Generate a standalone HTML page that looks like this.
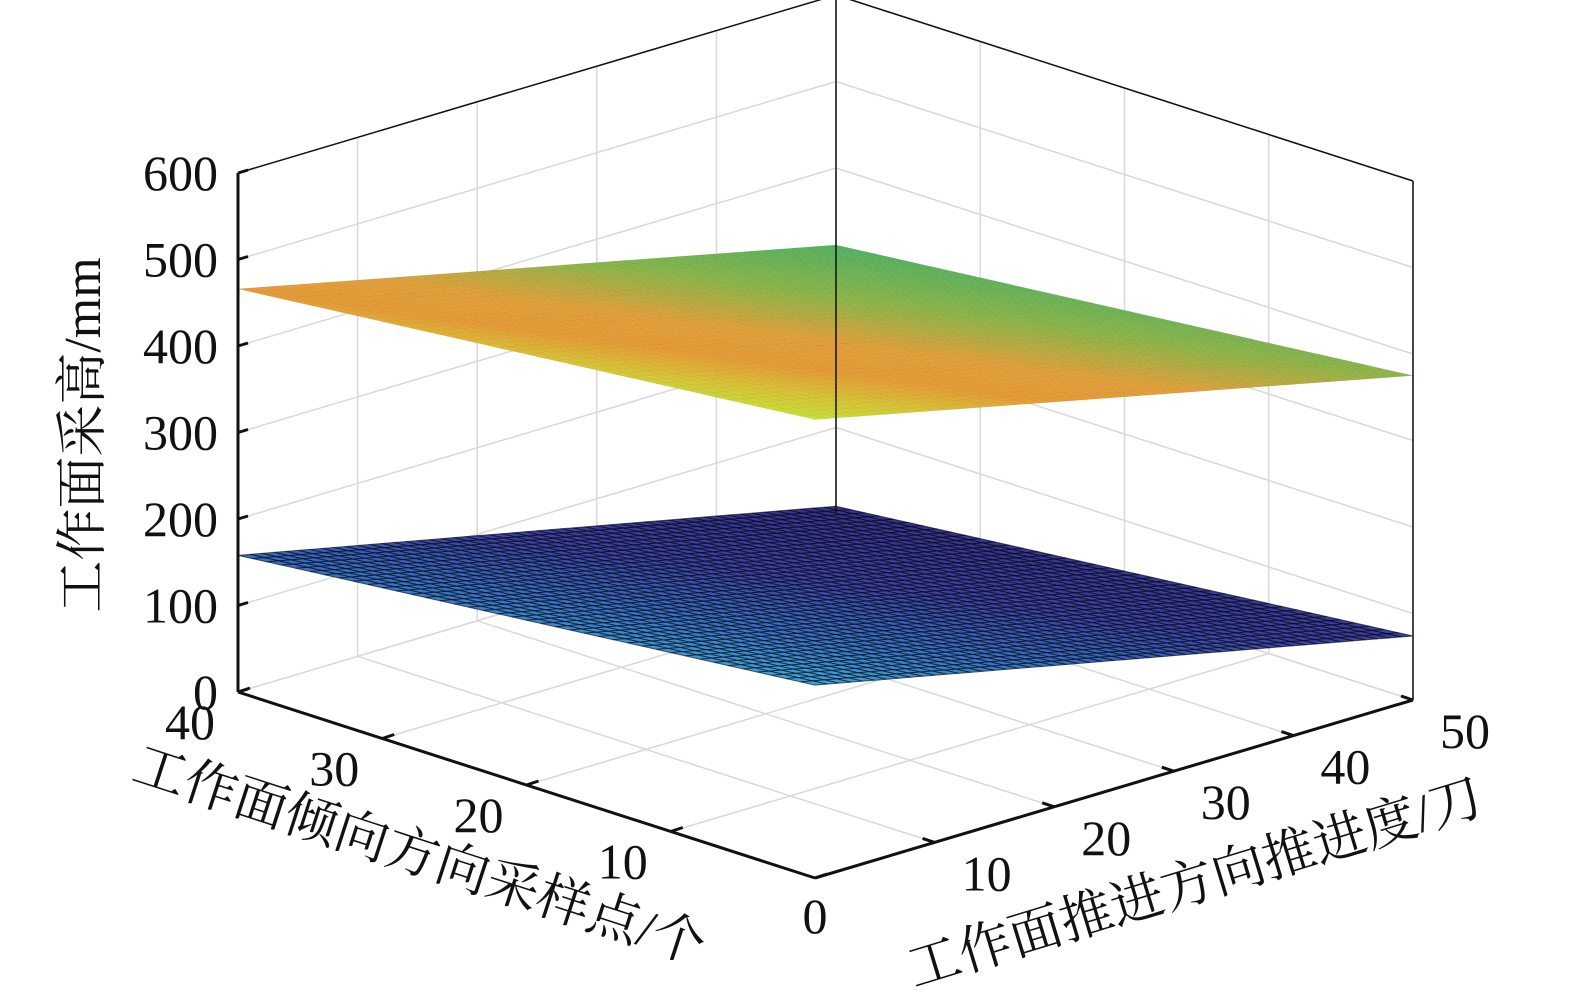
<!DOCTYPE html>
<html><head><meta charset="utf-8"><style>
html,body{margin:0;padding:0;background:#fff;}
svg{display:block;}
text{font-family:"Liberation Serif","Noto Serif CJK SC","Noto Sans CJK SC",serif;fill:#111;}
</style></head><body>
<svg id="chart" width="1575" height="1001" viewBox="0 0 1575 1001">
<g id="grid"></g>
<g id="surfaces"></g>
<g id="axes"></g>
<text x="100" y="435" font-size="52" text-anchor="middle" transform="rotate(-90 100 435)">工作面采高/mm</text>
<text x="414" y="872" font-size="53" text-anchor="middle" transform="rotate(18 414 872)">工作面倾向方向采样点/个</text>
<text x="1200" y="900" font-size="53" text-anchor="middle" transform="rotate(-17 1200 900)">工作面推进方向推进度/刀</text>
</svg>
<script>
// data
const zTicks=[0,100,200,300,400,500,600];
const xTicks=[10,20,30,40,50];
const yTicks=[0,10,20,30,40];
// surface corner heights: [x0y0, x50y0, x50y40, x0y40]
const upperCorners=[530,375,311,466];
const lowerCorners=[223,74,9,158];

const NS='http://www.w3.org/2000/svg';
function P(x,y,z){return [815+x*11.96-y*14.425, 878-x*3.56-y*4.65-z*0.865];}
function el(tag,attrs,parent){const e=document.createElementNS(NS,tag);for(const k in attrs)e.setAttribute(k,attrs[k]);parent.appendChild(e);return e;}
function line(a,b,st,w,parent){return el('line',{x1:a[0],y1:a[1],x2:b[0],y2:b[1],stroke:st,'stroke-width':w},parent);}
const grid=document.getElementById('grid'),axes=document.getElementById('axes'),surf=document.getElementById('surfaces');
const gc='#d9d9d9';
for(const z of zTicks){const l=line(P(0,40,z),P(50,40,z),gc,1.5,grid);
 const m=line(P(50,40,z),P(50,0,z),gc,1.5,grid);}
for(const x of [0,...xTicks]){const l=line(P(x,40,0),P(x,40,600),gc,1.5,grid);
 const f=line(P(x,0,0),P(x,40,0),gc,1.5,grid);}
for(const y of yTicks){const l=line(P(50,y,0),P(50,y,600),gc,1.5,grid);
 const f=line(P(0,y,0),P(50,y,0),gc,1.5,grid);}

function lerpC(stops,t){t=Math.max(0,Math.min(1,t));for(let i=1;i<stops.length;i++){if(t<=stops[i][0]){const a=stops[i-1],b=stops[i],u=(t-a[0])/(b[0]-a[0]);return 'rgb('+[0,1,2].map(k=>Math.round(a[1][k]+(b[1][k]-a[1][k])*u)).join(',')+')';}}return 'rgb('+stops[stops.length-1][1].join(',')+')';}
const upperMap=[[0,[80,178,95]],[0.3,[140,182,70]],[0.55,[228,160,55]],[0.72,[232,155,50]],[0.88,[215,200,50]],[1,[200,225,50]]];
const lowerMap=[[0,[52,48,138]],[0.45,[58,66,165]],[0.75,[55,115,200]],[1,[62,165,220]]];
function bil(c,x,y){const u=x/50,v=y/40;return c[0]*(1-u)*(1-v)+c[1]*u*(1-v)+c[2]*u*v+c[3]*(1-u)*v;}
function drawSurface(c,map,zmin,zmax,stroke,sop,sw,name){
 const g=el('g',{},surf);
 const n=1;
 for(let y=40;y>0;y-=n)for(let x=50;x>0;x-=n){
  const pts=[[x-n,y-n],[x,y-n],[x,y],[x-n,y]].map(p=>P(p[0],p[1],bil(c,p[0],p[1])));
  const zc=bil(c,x-n/2,y-n/2);
  el('polygon',{points:pts.map(p=>p.join(',')).join(' '),fill:lerpC(map,(zc-zmin)/(zmax-zmin)),stroke:stroke,'stroke-opacity':sop,'stroke-width':sw},g);
 }}
drawSurface(lowerCorners,lowerMap,0,223,'#000',0.6,1,'lower-surface');
drawSurface(upperCorners,upperMap,311,530,'#000',0.05,0.8,'upper-surface');

const k='#111';
[[P(0,40,0),P(0,40,600),3],[P(0,40,600),P(50,40,600),1.5],[P(50,40,600),P(50,0,600),1.5],[P(50,40,0),P(50,40,600),1.5],[P(50,0,0),P(50,0,600),1.5],[P(0,40,0),P(0,0,0),3],[P(0,0,0),P(50,0,0),3]].forEach((s)=>{const l=line(s[0],s[1],k,s[2],axes);});
for(const z of zTicks){const p=P(0,40,z);line(p,[p[0]+10,p[1]-3],k,3,axes);
 const t=el('text',{x:p[0]-20,y:p[1]+17,'font-size':50,'text-anchor':'end'},axes);t.textContent=z;}
for(const x of xTicks){const p=P(x,0,0);line(p,[p[0]-12,p[1]-4],k,3,axes);
 const t=el('text',{x:p[0]+52,y:p[1]+48,'font-size':50,'text-anchor':'middle'},axes);t.textContent=x;}
for(const y of yTicks){const p=P(0,y,0);line(p,[p[0]+12,p[1]-4],k,3,axes);
 const t=el('text',{x:p[0]-(y===0?0:48),y:p[1]+(y===0?55:47),'font-size':50,'text-anchor':'middle'},axes);t.textContent=y;}
</script>
</body></html>
